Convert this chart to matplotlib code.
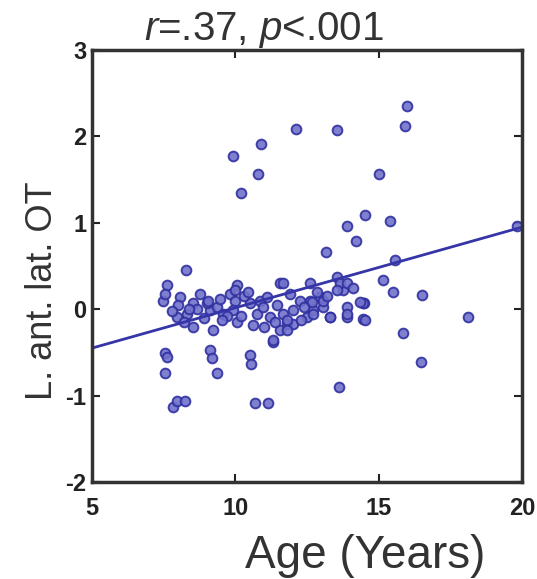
import matplotlib.pyplot as plt
import numpy as np

plt.rcParams['font.family'] = ['Liberation Sans', 'DejaVu Sans']
plt.rcParams['mathtext.fontset'] = 'custom'
plt.rcParams['mathtext.it'] = 'Liberation Sans:italic'
plt.rcParams['mathtext.rm'] = 'Liberation Sans'
plt.rcParams['axes.unicode_minus'] = False

# edad (años) y valores L ant. lat. OT
age = [
    9.93, 10.9, 10.8, 10.19, 12.12, 13.53, 15.98, 15.93, 15.01, 14.52,
    15.39, 13.9, 14.21, 13.16, 15.57, 19.81, 15.15, 15.5, 16.53, 18.1,
    15.84, 16.48, 13.62, 14.46, 14.5, 8.27, 7.6, 7.49, 7.55, 7.6,
    7.55, 7.84, 7.95, 8.24, 9.12, 9.17, 9.35, 10.51, 10.56, 10.69,
    11.15, 11.32, 11.56,
    7.55, 8.07, 8.01, 7.95, 8.77, 8.53, 8.3, 8.53, 9.23, 9.12,
    9.0, 9.35, 9.81, 10.05, 9.99, 9.93, 10.05, 9.58, 10.51, 10.86,
    10.74, 8.9, 8.65, 9.45, 9.7, 10.3, 10.2, 10.45, 8.2, 8.4,
    7.8, 9.05, 9.55, 10.0, 10.6,
    12.6, 13.53, 11.1, 10.97, 11.2, 11.67, 11.79, 11.56, 11.32, 12.02,
    12.02, 12.6, 12.72, 12.95, 13.07, 13.3, 13.77, 13.88, 13.88, 13.65,
    14.46, 14.52, 12.49, 12.25, 12.72, 13.3, 13.88, 12.66, 13.07, 13.53,
    13.88, 14.35, 11.79, 11.79, 11.67, 11.45, 11.9, 12.3, 12.85, 13.2,
    14.1, 11.0, 11.4, 12.4,
]
score = [
    1.77, 1.91, 1.56, 1.35, 2.09, 2.07, 2.35, 2.12, 1.57, 1.09,
    1.02, 0.96, 0.79, 0.66, 0.57, 0.96, 0.34, 0.20, 0.16, -0.09,
    -0.27, -0.61, -0.90, -0.11, 0.07, 0.45, 0.28, 0.10, -0.51, -0.55,
    -0.74, -1.13, -1.06, -1.06, -0.47, -0.57, -0.74, -0.53, -0.63, -1.08,
    -1.08, -0.38, 0.30,
    0.18, 0.14, 0.05, -0.09, 0.18, 0.07, -0.05, -0.20, -0.24, -0.01,
    0.07, 0.03, 0.18, 0.28, 0.10, -0.01, -0.15, -0.05, 0.07, 0.10,
    -0.05, -0.10, 0.00, 0.12, -0.08, 0.15, -0.08, 0.20, -0.15, 0.00,
    -0.02, 0.10, -0.12, 0.22, -0.18,
    0.30, 0.37, 0.14, 0.03, -0.09, -0.05, -0.17, -0.24, -0.36, -0.01,
    -0.17, 0.10, -0.01, 0.14, 0.03, -0.09, 0.22, 0.03, -0.09, 0.30,
    0.07, -0.13, -0.09, 0.10, -0.05, -0.09, -0.05, 0.08, 0.10, 0.22,
    0.30, 0.08, -0.13, -0.24, 0.30, 0.05, 0.18, -0.12, 0.20, 0.15,
    0.25, -0.20, -0.15, 0.02,
]

# recta de regresion
fit_x = [5, 20]
fit_y = [-0.45, 0.95]

fig = plt.figure(figsize=(5.37, 5.79), dpi=100)
ax = fig.add_axes([0.1713, 0.1675, 0.8007, 0.7461])

ax.plot(age, score, 'o', markersize=7, markerfacecolor='#7272cc',
        markeredgecolor='#3030a0', markeredgewidth=1.4, alpha=0.9)
ax.plot(fit_x, fit_y, color='#3535a8', linewidth=2)

ax.set_xlim(5, 20)
ax.set_ylim(-2, 3)
ax.set_xticks([5, 10, 15, 20])
ax.set_yticks([-2, -1, 0, 1, 2, 3])
ax.tick_params(direction='in', top=True, right=True, length=6, width=1.5,
               labelsize=17, colors='#222222')
ax.tick_params(axis='x', pad=11)
ax.tick_params(axis='y', pad=4)
for lab in ax.get_xticklabels() + ax.get_yticklabels():
    lab.set_fontweight('bold')
for s in ax.spines.values():
    s.set_linewidth(2.5)
    s.set_color('#333333')

ax.set_xlabel('Age (Years)', fontsize=33, color='#333333')
ax.xaxis.set_label_coords(0.635, -0.12)
ax.set_ylabel('L. ant. lat. OT', fontsize=26, color='#333333')
ax.yaxis.set_label_coords(-0.074, 0.444)
ax.set_title(r'$r$=.37, $p$<.001', fontsize=29, color='#333333',
             x=0.40, pad=7)

plt.savefig('out.png', dpi=100)
plt.close()
